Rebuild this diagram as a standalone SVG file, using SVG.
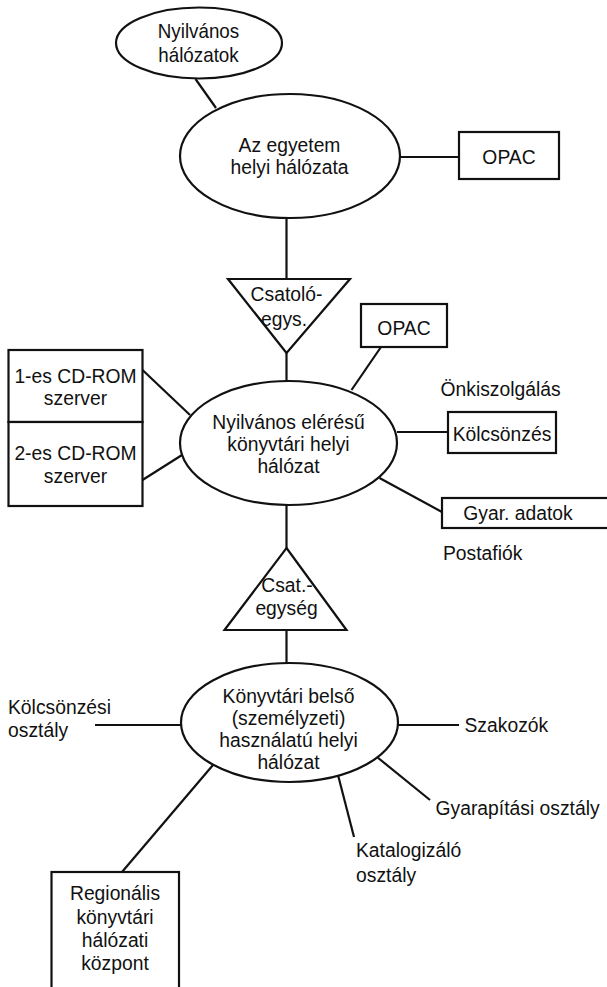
<svg xmlns="http://www.w3.org/2000/svg" width="607" height="987" viewBox="0 0 607 987">
<style>
.s{fill:#fff;stroke:#111;stroke-width:2.2}
.c{stroke:#111;stroke-width:2.2;fill:none}
text{font-family:"Liberation Sans",Arial,sans-serif;font-size:21px;fill:#111}
.m{text-anchor:middle}
.t{font-size:20px}
</style>
<rect width="607" height="987" fill="#fff"/>
<g id="connectors">
<line class="c" x1="195.5" y1="79" x2="216" y2="108"/>
<line class="c" x1="400" y1="157" x2="459" y2="157"/>
<line class="c" x1="286.5" y1="217" x2="286.5" y2="279"/>
<line class="c" x1="286.5" y1="353" x2="286.5" y2="381"/>
<line class="c" x1="381" y1="347" x2="351.5" y2="390"/>
<line class="c" x1="142.5" y1="370" x2="190" y2="415"/>
<line class="c" x1="142.5" y1="480" x2="182" y2="455"/>
<line class="c" x1="397" y1="432" x2="448" y2="432"/>
<line class="c" x1="379.5" y1="478" x2="442" y2="512"/>
<line class="c" x1="286.5" y1="505" x2="286.5" y2="548"/>
<line class="c" x1="286.5" y1="630" x2="286.5" y2="663"/>
<line class="c" x1="95" y1="725" x2="181" y2="725"/>
<line class="c" x1="397" y1="725" x2="459" y2="725"/>
<line class="c" x1="377" y1="757" x2="430" y2="800"/>
<line class="c" x1="338" y1="775" x2="354" y2="837"/>
<line class="c" x1="213" y1="765" x2="122" y2="872"/>
</g>
<g id="nyilvanos-halozatok">
<ellipse class="s" cx="199" cy="43" rx="83" ry="35.5"/>
<text class="m t" transform="translate(198.5,38) scale(0.94,1)">Nyilvános</text>
<text class="m t" transform="translate(198.5,62) scale(0.94,1)">hálózatok</text>
</g>
<g id="egyetem-halozat">
<ellipse class="s" cx="290" cy="156" rx="110" ry="62"/>
<text class="m" transform="translate(289.5,152) scale(0.92,1)">Az egyetem</text>
<text class="m" transform="translate(289.5,174) scale(0.92,1)">helyi hálózata</text>
</g>
<g id="opac1">
<rect class="s" x="459" y="132" width="100" height="47"/>
<text class="m" transform="translate(509,164) scale(0.92,1)">OPAC</text>
</g>
<g id="csatolo">
<polygon class="s" points="228,279 350,279 286.5,353"/>
<text class="m" transform="translate(286.5,301) scale(0.92,1)">Csatoló-</text>
<text class="m" transform="translate(284,326) scale(0.92,1)">egys.</text>
</g>
<g id="opac2">
<rect class="s" x="361" y="304" width="86" height="43"/>
<text class="m" transform="translate(404,335) scale(0.92,1)">OPAC</text>
</g>
<g id="cdrom1">
<rect class="s" x="8.5" y="350" width="134" height="72"/>
<text class="m" transform="translate(75.5,383) scale(0.92,1)">1-es CD-ROM</text>
<text class="m" transform="translate(75.5,405) scale(0.92,1)">szerver</text>
</g>
<g id="cdrom2">
<rect class="s" x="8.5" y="422" width="134" height="84"/>
<text class="m" transform="translate(75.5,460) scale(0.92,1)">2-es CD-ROM</text>
<text class="m" transform="translate(75.5,483) scale(0.92,1)">szerver</text>
</g>
<g id="nyilvanos-eleresu">
<ellipse class="s" cx="288.5" cy="443" rx="108.5" ry="62"/>
<text class="m" transform="translate(288.5,429) scale(0.92,1)">Nyilvános elérésű</text>
<text class="m" transform="translate(288.5,451) scale(0.92,1)">könyvtári helyi</text>
<text class="m" transform="translate(288.5,473) scale(0.92,1)">hálózat</text>
</g>
<g id="onkiszolgalas">
<text transform="translate(440.5,396) scale(0.92,1)">Önkiszolgálás</text>
</g>
<g id="kolcsonzes">
<rect class="s" x="448" y="412" width="108" height="41"/>
<text class="m" transform="translate(502,441) scale(0.92,1)">Kölcsönzés</text>
</g>
<g id="gyar-adatok">
<rect class="s" x="442" y="498" width="172" height="30"/>
<text class="m" transform="translate(518,520) scale(0.92,1)">Gyar. adatok</text>
</g>
<g id="postafiok">
<text transform="translate(443,560) scale(0.92,1)">Postafiók</text>
</g>
<g id="csat-egyseg">
<polygon class="s" points="286.5,548 346.5,630 224.5,630"/>
<text class="m" transform="translate(287,592) scale(0.92,1)">Csat.-</text>
<text class="m" transform="translate(286.5,615) scale(0.92,1)">egység</text>
</g>
<g id="konyvtari-belso">
<ellipse class="s" cx="289.5" cy="722.5" rx="108.5" ry="59.5"/>
<text class="m" transform="translate(288.5,703) scale(0.92,1)">Könyvtári belső</text>
<text class="m" transform="translate(288.5,725) scale(0.92,1)">(személyzeti)</text>
<text class="m" transform="translate(288.5,747) scale(0.92,1)">használatú helyi</text>
<text class="m" transform="translate(288.5,769) scale(0.92,1)">hálózat</text>
</g>
<g id="kolcsonzesi-osztaly">
<text transform="translate(8,714) scale(0.92,1)">Kölcsönzési</text>
<text transform="translate(8,737) scale(0.92,1)">osztály</text>
</g>
<g id="szakozok">
<text transform="translate(464.5,732) scale(0.92,1)">Szakozók</text>
</g>
<g id="gyarapitasi">
<text transform="translate(435.5,815) scale(0.92,1)">Gyarapítási osztály</text>
</g>
<g id="katalogizalo">
<text transform="translate(356,857) scale(0.92,1)">Katalogizáló</text>
<text transform="translate(356,882) scale(0.92,1)">osztály</text>
</g>
<g id="regionalis">
<rect class="s" x="51.5" y="872" width="127.5" height="130"/>
<text class="m" transform="translate(115,900) scale(0.92,1)">Regionális</text>
<text class="m" transform="translate(115,924) scale(0.92,1)">könyvtári</text>
<text class="m" transform="translate(115,947) scale(0.92,1)">hálózati</text>
<text class="m" transform="translate(115,970) scale(0.92,1)">központ</text>
</g>
</svg>
